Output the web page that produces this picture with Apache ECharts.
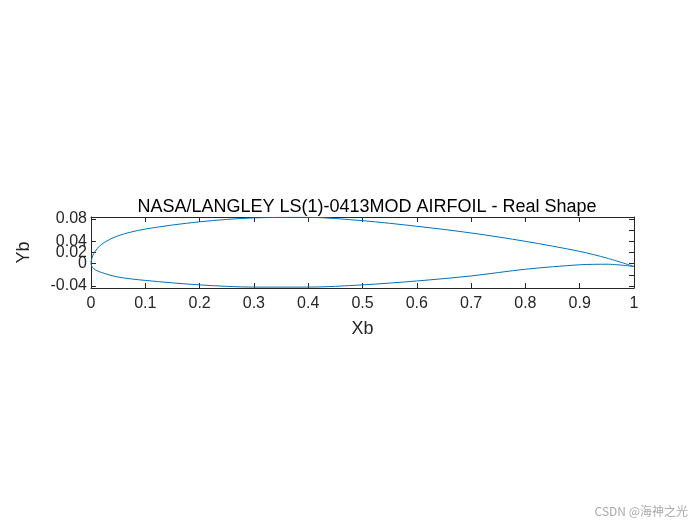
<!DOCTYPE html>
<html><head><meta charset="utf-8">
<script src="https://cdn.jsdelivr.net/npm/echarts@6/dist/echarts.min.js"></script>
<style>html,body{margin:0;background:#fff}#c{width:700px;height:525px}</style>
</head><body><div id="c"></div>
<script>
const xs = [0, 0.005, 0.02, 0.05, 0.1, 0.2, 0.3, 0.4, 0.5, 0.6, 0.7, 0.8, 0.9, 0.95, 1.0];
const upperY = [0, 0.018, 0.035, 0.05, 0.062, 0.075, 0.082, 0.083, 0.077, 0.067, 0.055, 0.040, 0.022, 0.010, -0.005];
const lowerY = [0, -0.009, -0.016, -0.024, -0.030, -0.038, -0.042, -0.042, -0.038, -0.031, -0.022, -0.010, -0.002, -0.001, -0.005];
const xTicks = [0,0.1,0.2,0.3,0.4,0.5,0.6,0.7,0.8,0.9,1];
const yTicks = [-0.04,-0.02,0,0.02,0.04,0.06,0.08];

const pts = [];
for (let i = xs.length-1; i >= 0; i--) pts.push([xs[i], upperY[i]]);
for (let i = 1; i < xs.length; i++) pts.push([xs[i], lowerY[i]]);

const font = 'Liberation Sans, Arial, sans-serif';
const line = {show:true,onZero:false,lineStyle:{color:'#262626',width:1}};
const tick = {show:true,inside:true,length:5,lineStyle:{color:'#262626'}};
const lbl = {color:'#262626',fontSize:16,fontFamily:font,hideOverlap:false,showMinLabel:true,showMaxLabel:true};
const chart = echarts.init(document.getElementById('c'));
chart.setOption({
  animation:false,
  title:{text:'NASA/LANGLEY LS(1)-0413MOD AIRFOIL - Real Shape',left:362,top:193,textAlign:'center',
    textStyle:{fontSize:18,fontWeight:'normal',color:'#000',fontFamily:font}},
  grid:{left:91,right:66,top:217,bottom:237},
  xAxis:[{type:'value',min:0,max:1,interval:0.1,name:'Xb',nameLocation:'middle',nameGap:32,
    nameTextStyle:{fontSize:18,color:'#262626',fontFamily:font},
    axisLabel:Object.assign({},lbl,{margin:8,formatter:v=>String(+v.toFixed(1))}),
    axisLine:line,axisTick:tick,splitLine:{show:false}},
    {type:'value',min:0,max:1,interval:0.1,position:'top',axisLabel:{show:false},
     axisLine:line,axisTick:tick,splitLine:{show:false}}],
  yAxis:[{type:'value',min:-0.0436,max:0.0836,name:'Yb',nameLocation:'middle',nameGap:58,
    nameTextStyle:{fontSize:18,color:'#262626',fontFamily:font},
    axisLabel:Object.assign({},lbl,{margin:4,lineHeight:14,customValues:yTicks,formatter:v=>String(+(+v).toFixed(2))}),
    axisLine:line,axisTick:Object.assign({},tick,{customValues:yTicks}),splitLine:{show:false}},
    {type:'value',min:-0.0436,max:0.0836,position:'right',axisLabel:{show:false},
     axisLine:line,axisTick:Object.assign({},tick,{customValues:yTicks}),splitLine:{show:false}}],
  graphic:[{type:'text',right:12,bottom:8,style:{text:'CSDN @海神之光',fill:'#aaa',fontSize:12,fontFamily:'Noto Sans CJK SC'}}],
  series:[{type:'line',data:pts,showSymbol:false,lineStyle:{color:'#0072BD',width:1},smooth:0.3}]
});
</script></body></html>
